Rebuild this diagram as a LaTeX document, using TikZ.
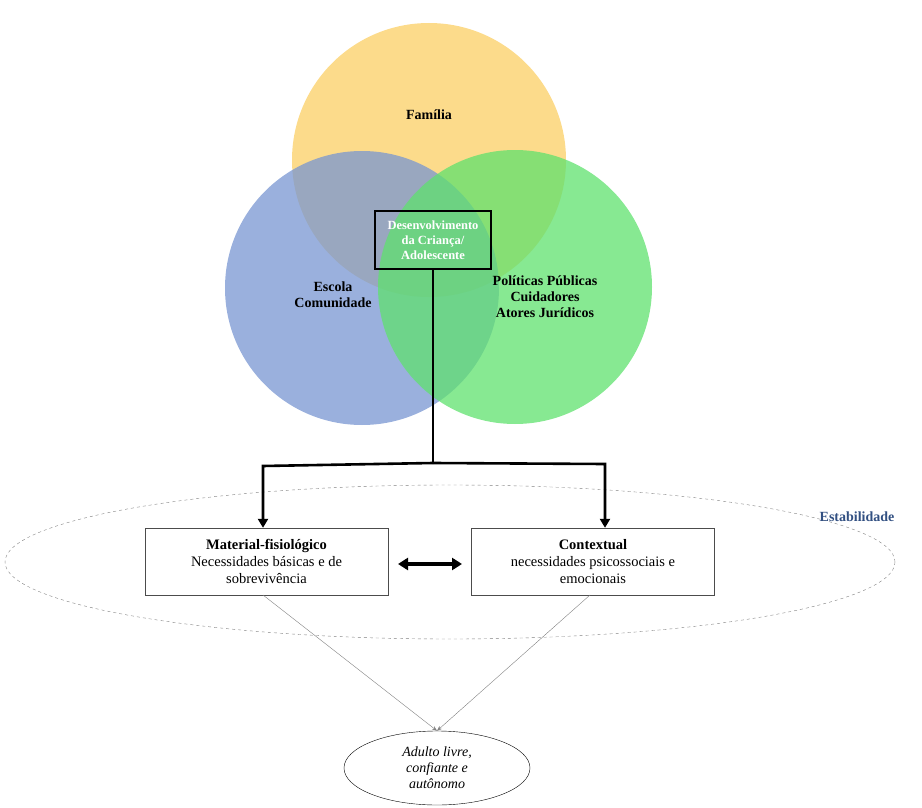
\documentclass[tikz,border=0pt]{standalone}
\usepackage{fontspec}
\setmainfont{Liberation Serif}
\usetikzlibrary{arrows.meta,shapes.geometric}
\begin{document}
\begin{tikzpicture}[x=1pt,y=-1pt,
  circ/.style={circle,minimum size=274pt,inner sep=0pt,fill opacity=0.75,draw=none},
  lbl/.style={font=\fontsize{14}{16}\selectfont\bfseries,align=center},
  box/.style={draw=black!70,fill=white,minimum width=243pt,minimum height=67pt,align=center,font=\fontsize{14.5}{17}\selectfont,inner sep=2pt},
  thick line/.style={line width=2.6pt}]
\useasboundingbox (0,0) rectangle (922,808);
\node[circ,fill={rgb,255:red,251;green,207;blue,100}] (fam) at (429,160) {};
\node[circ,fill={rgb,255:red,120;green,150;blue,210}] (esc) at (362,288) {};
\node[circ,fill={rgb,255:red,95;green,225;blue,110}] (pol) at (515,287) {};
\node[lbl] (tfam) at (429,115) {Família};
\node[lbl] (tesc) at (333,295) {Escola\\Comunidade};
\node[lbl] (tpol) at (545,297) {Políticas Públicas\\Cuidadores\\Atores Jurídicos};
\node[draw=black,line width=2.5pt,minimum width=116pt,minimum height=58pt,text=white,font=\fontsize{12.5}{15}\selectfont\bfseries,align=center,inner sep=1pt] (dev) at (433,240) {Desenvolvimento\\da Criança/\\Adolescente};
\draw[dashed,gray] (450,562) ellipse [x radius=445, y radius=77];
\node[font=\fontsize{14}{16}\selectfont\bfseries,text={rgb,255:red,50;green,80;blue,130}] (est) at (857,517) {Estabilidade};
\node[box] (mat) at (266.5,561.5) {\textbf{Material-fisiológico}\\Necessidades básicas e de\\sobrevivência};
\node[box] (ctx) at (593,561.5) {\textbf{Contextual}\\necessidades psicossociais e\\emocionais};
\coordinate (j) at (433,463);
\coordinate (jl) at (263,466);
\coordinate (jr) at (605,464);
\draw[thick line] (dev.south) -- (j);
\draw[thick line,-{Triangle[length=9pt,width=10pt]}] (j) -- (jl) -- (jl|-mat.north);
\draw[thick line,-{Triangle[length=9pt,width=10pt]}] (j) -- (jr) -- (jr|-ctx.north);
\coordinate (dl) at (398,564);
\coordinate (dr) at (462,564);
\draw[line width=4pt,{Triangle[length=10pt,width=12pt]}-{Triangle[length=10pt,width=12pt]}] (dl) -- (dr);
\node[draw,ellipse,minimum width=186pt,minimum height=74pt,inner sep=0pt,align=center,font=\fontsize{14}{16}\selectfont\itshape] (ad) at (437,768) {Adulto livre,\\confiante e\\autônomo};
\draw[gray,-{Stealth[length=5pt]}] (263,595) -- (ad.north);
\draw[gray,-{Stealth[length=5pt]}] (590,595) -- (ad.north);
\end{tikzpicture}
\end{document}
